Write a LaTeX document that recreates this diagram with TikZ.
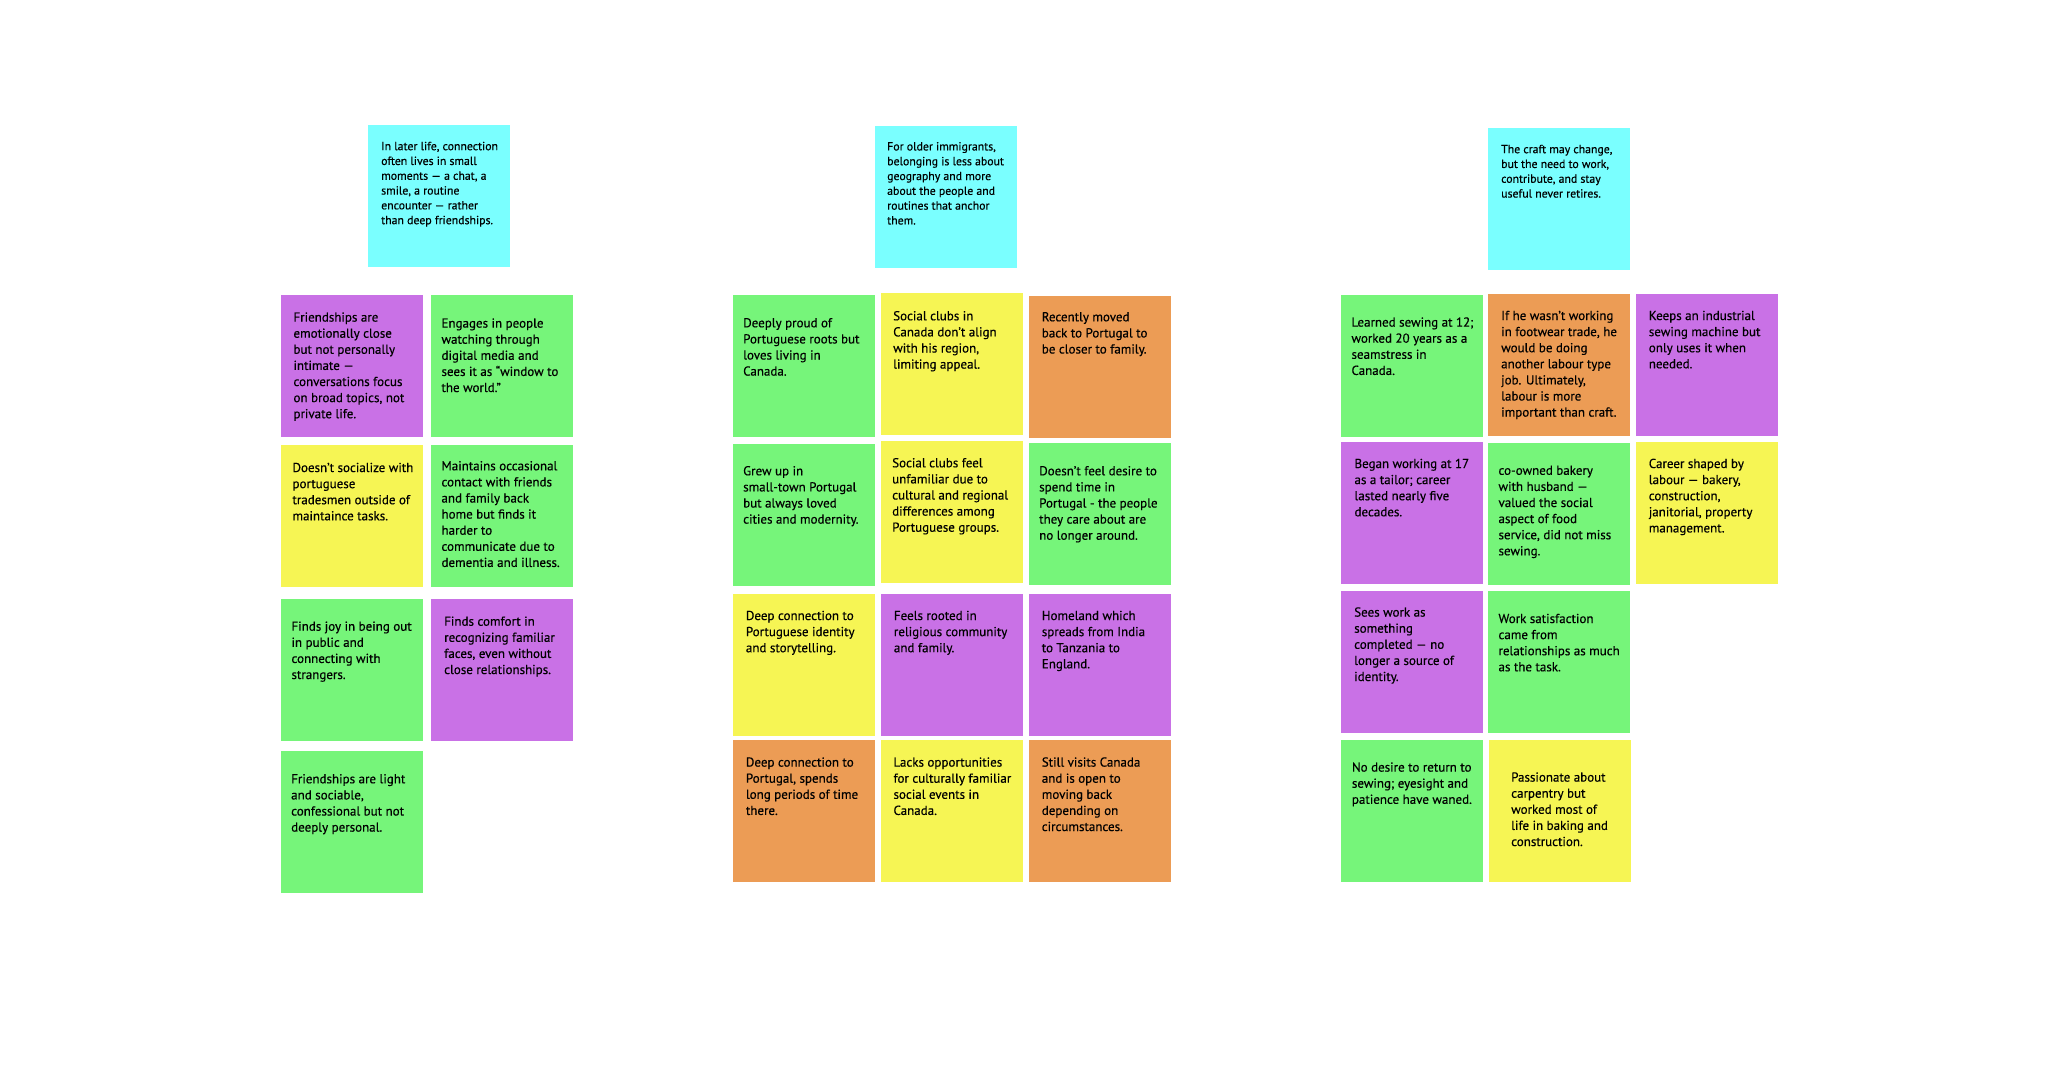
\documentclass[tikz,border=0pt]{standalone}
\usepackage{fontspec}
\setmainfont{PT Sans}[FakeBold=0.4]
\definecolor{cyanN}{HTML}{7AFFFF}
\definecolor{purpleN}{HTML}{C971E6}
\definecolor{greenN}{HTML}{76F57A}
\definecolor{yellowN}{HTML}{F6F554}
\definecolor{orangeN}{HTML}{EC9C55}
\tikzset{
  stickybox/.style={anchor=north west, inner sep=0pt, minimum width=142pt, minimum height=142pt, draw=none},
  stext/.style={anchor=north west, inner sep=0pt, align=left, text=black, font={\fontsize{13}{16.1}\selectfont}},
  htext/.style={anchor=north west, inner sep=0pt, align=left, text=black, font={\fontsize{11.8}{14.8}\selectfont}},
}
% name, x, y, colour, dx, dy, text
\newcommand\stickynote[7]{%
  \node[stickybox, fill=#4] (#1) at (#2,#3) {};
  \node[stext] (#1-t) at ({#2+#5},{#3+#6-1.9}) {\rule{0pt}{11pt}#7};
}
\newcommand\headnote[6]{%
  \node[stickybox, fill=cyanN] (#1) at (#2,#3) {};
  \node[htext] (#1-t) at ({#2+#4},{#3+#5-1.75}) {\rule{0pt}{10pt}#6};
}
\begin{document}
\begin{tikzpicture}[x=1pt,y=-1pt]
\fill[white] (0,0) rectangle (2060,1088);
\path[use as bounding box] (0,0) rectangle (2060,1088);

% ---------- cluster 1 ----------
\headnote{h1}{368}{125}{13}{16.7}{In later life, connection\\often lives in small\\moments — a chat, a\\smile, a routine\\encounter — rather\\than deep friendships.}
\stickynote{a1}{281}{295}{purpleN}{12.3}{17.3}{Friendships are\\emotionally close\\but not personally\\intimate —\\conversations focus\\on broad topics, not\\private life.}
\stickynote{a2}{431}{295}{greenN}{10.3}{23.3}{Engages in people\\watching through\\digital media and\\sees it as “window to\\the world.”}
\stickynote{a3}{281}{445}{yellowN}{11.3}{17.7}{Doesn’t socialize with\\portuguese\\tradesmen outside of\\maintaince tasks.}
\stickynote{a4}{431}{445}{greenN}{10.3}{16}{Maintains occasional\\contact with friends\\and family back\\home but finds it\\harder to\\communicate due to\\dementia and illness.}
\stickynote{a5}{281}{599}{greenN}{10.3}{22.4}{Finds joy in being out\\in public and\\connecting with\\strangers.}
\stickynote{a6}{431}{599}{purpleN}{13}{17.4}{Finds comfort in\\recognizing familiar\\faces, even without\\close relationships.}
\stickynote{a7}{281}{751}{greenN}{10}{23}{Friendships are light\\and sociable,\\confessional but not\\deeply personal.}

% ---------- cluster 2 ----------
\headnote{h2}{875}{126}{12}{16}{For older immigrants,\\belonging is less about\\geography and more\\about the people and\\routines that anchor\\them.}
\stickynote{b1}{733}{295}{greenN}{10}{23}{Deeply proud of\\Portuguese roots but\\loves living in\\Canada.}
\stickynote{b2}{881}{293}{yellowN}{12}{18}{Social clubs in\\Canada don’t align\\with his region,\\limiting appeal.}
\stickynote{b3}{1029}{296}{orangeN}{12.6}{16}{Recently moved\\back to Portugal to\\be closer to family.}
\stickynote{b4}{733}{444}{greenN}{10}{22}{Grew up in\\small-town Portugal\\but always loved\\cities and modernity.}
\stickynote{b5}{881}{441}{yellowN}{11}{17}{Social clubs feel\\unfamiliar due to\\cultural and regional\\differences among\\Portuguese groups.}
\stickynote{b6}{1029}{443}{greenN}{10}{23}{Doesn’t feel desire to\\spend time in\\Portugal - the people\\they care about are\\no longer around.}
\stickynote{b7}{733}{594}{yellowN}{12.7}{16.7}{Deep connection to\\Portuguese identity\\and storytelling.}
\stickynote{b8}{881}{594}{purpleN}{12.7}{16.7}{Feels rooted in\\religious community\\and family.}
\stickynote{b9}{1029}{594}{purpleN}{12.6}{16.7}{Homeland which\\spreads from India\\to Tanzania to\\England.}
\stickynote{b10}{733}{740}{orangeN}{12.7}{17.3}{Deep connection to\\Portugal, spends\\long periods of time\\there.}
\stickynote{b11}{881}{740}{yellowN}{12.3}{17.3}{Lacks opportunities\\for culturally familiar\\social events in\\Canada.}
\stickynote{b12}{1029}{740}{orangeN}{12.6}{17.3}{Still visits Canada\\and is open to\\moving back\\depending on\\circumstances.}

% ---------- cluster 3 ----------
\headnote{h3}{1488}{128}{13}{16.7}{The craft may change,\\but the need to work,\\contribute, and stay\\useful never retires.}
\stickynote{c1}{1341}{295}{greenN}{10.3}{22.3}{Learned sewing at 12;\\worked 20 years as a\\seamstress in\\Canada.}
\stickynote{c2}{1488}{294}{orangeN}{13}{16.7}{If he wasn’t working\\in footwear trade, he\\would be doing\\another labour type\\job. Ultimately,\\labour is more\\important than craft.}
\stickynote{c3}{1636}{294}{purpleN}{12.6}{16.7}{Keeps an industrial\\sewing machine but\\only uses it when\\needed.}
\stickynote{c4}{1341}{442}{purpleN}{13.3}{16.7}{Began working at 17\\as a tailor; career\\lasted nearly five\\decades.}
\stickynote{c5}{1488}{443}{greenN}{10.3}{22.5}{co-owned bakery\\with husband —\\valued the social\\aspect of food\\service, did not miss\\sewing.}
\stickynote{c6}{1636}{442}{yellowN}{12.6}{16.7}{Career shaped by\\labour — bakery,\\construction,\\janitorial, property\\management.}
\stickynote{c7}{1341}{591}{purpleN}{13}{16.3}{Sees work as\\something\\completed — no\\longer a source of\\identity.}
\stickynote{c8}{1488}{591}{greenN}{10.3}{22.7}{Work satisfaction\\came from\\relationships as much\\as the task.}
\stickynote{c9}{1341}{740}{greenN}{10.7}{22.3}{No desire to return to\\sewing; eyesight and\\patience have waned.}
\stickynote{c10}{1489}{740}{yellowN}{22}{32.3}{Passionate about\\carpentry but\\worked most of\\life in baking and\\construction.}
\end{tikzpicture}
\end{document}
